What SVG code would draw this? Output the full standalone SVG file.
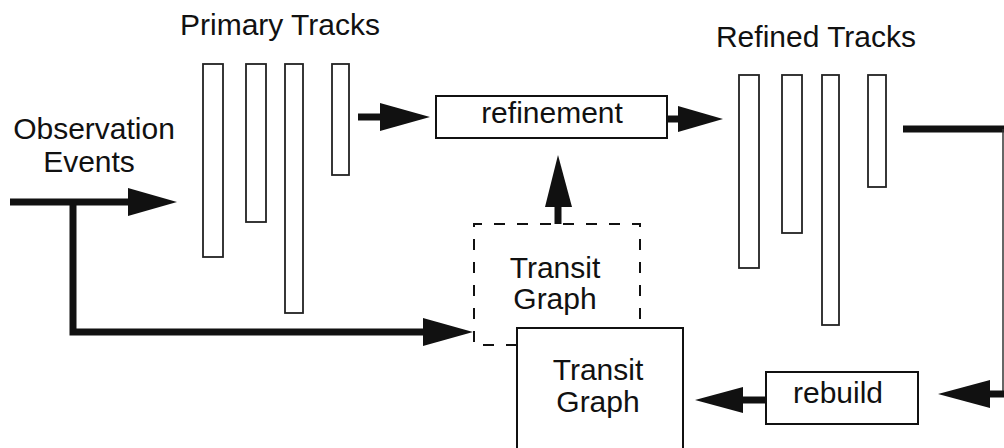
<svg xmlns="http://www.w3.org/2000/svg" width="1004" height="448" viewBox="0 0 1004 448">
<style>
.t{font-family:"Liberation Sans",Arial,sans-serif;font-size:30px;fill:#111;text-anchor:middle}
.bar{fill:#fff;stroke:#222;stroke-width:1.8}
.box{fill:#fff;stroke:#111;stroke-width:2}
.dash{fill:none;stroke:#111;stroke-width:2;stroke-dasharray:11 12}
.ln{fill:none;stroke:#111;stroke-width:7}
.thin{fill:none;stroke:#333;stroke-width:1.5}
.hd{fill:#111}
</style>
<rect width="1004" height="448" fill="#fff"/>
<g id="observation-events"><text class="t" x="94" y="139">Observation</text><text class="t" x="89" y="172">Events</text></g>
<g id="primary-tracks">
<text class="t" x="280" y="35">Primary Tracks</text>
<rect class="bar" x="203" y="64" width="20" height="193"/>
<rect class="bar" x="246" y="64" width="20" height="158"/>
<rect class="bar" x="285" y="64" width="18" height="249"/>
<rect class="bar" x="332" y="64" width="17" height="111"/>
</g>
<g id="refinement"><rect class="box" x="436" y="96" width="231" height="42"/><text class="t" x="552" y="123">refinement</text></g>
<g id="refined-tracks">
<text class="t" x="816" y="47">Refined Tracks</text>
<rect class="bar" x="739" y="75" width="20" height="193"/>
<rect class="bar" x="782" y="75" width="20" height="158"/>
<rect class="bar" x="822" y="75" width="17" height="250"/>
<rect class="bar" x="868" y="75" width="18" height="112"/>
</g>
<g id="transit-graph-dashed"><path class="dash" d="M517,345 H474 V224 H640 V330"/><text class="t" x="555" y="278">Transit</text><text class="t" x="555" y="309">Graph</text></g>
<g id="transit-graph"><rect class="box" x="517" y="328" width="166" height="130"/><text class="t" x="598" y="380">Transit</text><text class="t" x="598" y="412">Graph</text></g>
<g id="rebuild"><rect class="box" x="766" y="372" width="152" height="52"/><text class="t" x="838" y="403">rebuild</text></g>
<g id="connectors">
<path class="ln" d="M10,202 H135"/>
<polygon class="hd" points="128,188 177,202 128,216"/>
<path class="ln" d="M73,202 V332 H430"/>
<polygon class="hd" points="423,318 473,332 423,346"/>
<path class="ln" d="M358,117 H385"/>
<polygon class="hd" points="380,103 430,117 380,131"/>
<path class="ln" d="M667,119 H685"/>
<polygon class="hd" points="678,106 723,119 678,132"/>
<path class="ln" d="M558,224 V200"/>
<polygon class="hd" points="545,207 558,155 572,207"/>
<path class="ln" d="M903,129 H1004"/>
<path class="thin" d="M1003,129 V394"/>
<path class="ln" d="M1004,394 H985"/>
<polygon class="hd" points="990,380 938,394 990,408"/>
<path class="ln" d="M766,400 H735"/>
<polygon class="hd" points="743,387 695,400 743,413"/>
</g>
</svg>
